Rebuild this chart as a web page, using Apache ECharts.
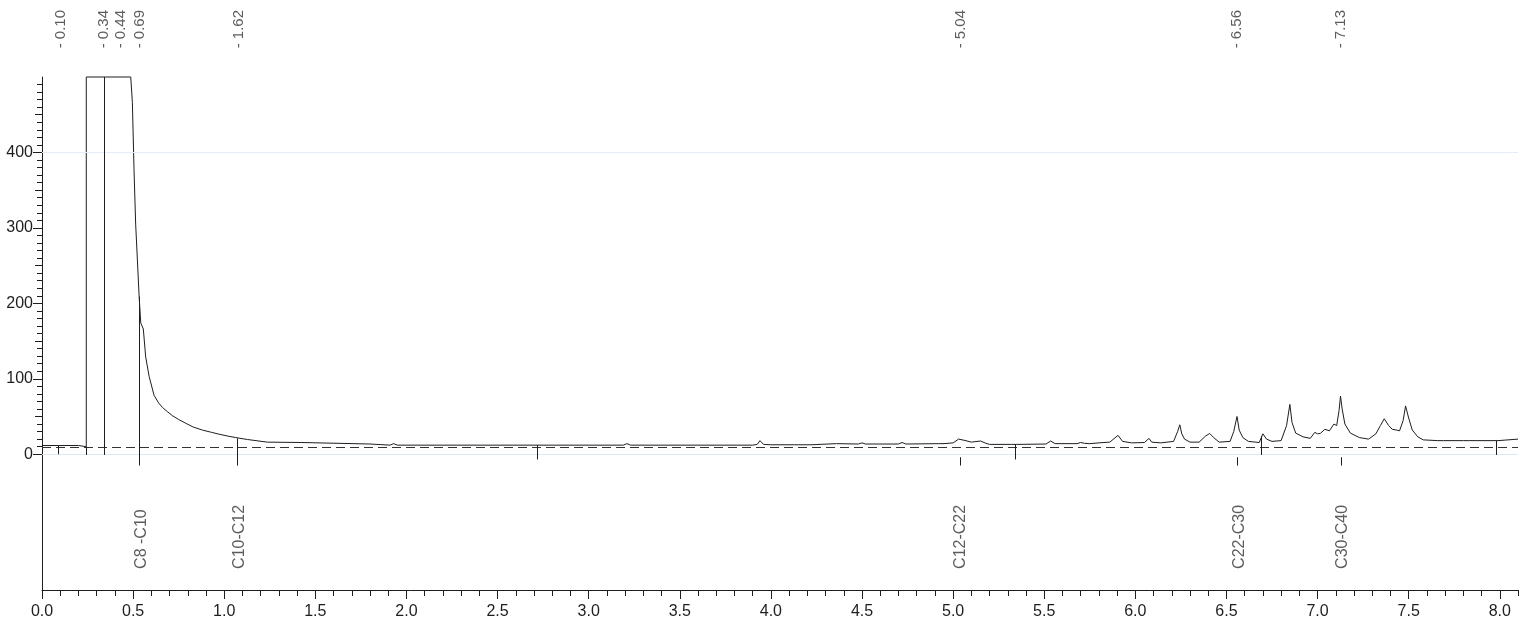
<!DOCTYPE html>
<html>
<head>
<meta charset="utf-8">
<script src="https://cdn.jsdelivr.net/npm/echarts@6/dist/echarts.min.js"></script>
<style>
  html, body { margin: 0; padding: 0; background: #fff; }
  #chart { width: 1519px; height: 621px; }
</style>
</head>
<body>
<div id="chart"></div>
<script>
// retention time (min) and detector signal
const traceTime = [
  0.00, 0.20, 0.205, 0.243, 0.243, 0.487, 0.496, 0.505, 0.514, 0.523, 0.533, 0.542, 0.548, 0.556,
  0.569, 0.588, 0.615, 0.64, 0.661, 0.69, 0.716, 0.75, 0.789, 0.83, 0.88, 0.93, 0.972, 1.02,
  1.064, 1.07, 1.127, 1.13, 1.236, 1.24, 1.426, 1.43, 1.80, 1.805, 1.91, 1.93, 1.95, 3.19,
  3.21, 3.23, 3.90, 3.925, 3.94, 3.96, 4.00, 4.13, 4.14, 4.15, 4.22, 4.23, 4.36, 4.37,
  4.48, 4.50, 4.52, 4.70, 4.72, 4.74, 4.92, 4.93, 4.95, 5.00, 5.03, 5.06, 5.10, 5.15,
  5.18, 5.20, 5.32, 5.33, 5.35, 5.51, 5.535, 5.56, 5.68, 5.70, 5.72, 5.73, 5.75, 5.80,
  5.86, 5.905, 5.93, 5.98, 6.05, 6.075, 6.09, 6.14, 6.21, 6.232, 6.244, 6.255, 6.27, 6.30,
  6.35, 6.385, 6.408, 6.43, 6.46, 6.52, 6.54, 6.558, 6.57, 6.59, 6.62, 6.68, 6.70, 6.72,
  6.75, 6.80, 6.83, 6.848, 6.86, 6.88, 6.92, 6.96, 6.985, 7.00, 7.015, 7.04, 7.065, 7.09,
  7.105, 7.118, 7.126, 7.135, 7.15, 7.18, 7.23, 7.28, 7.32, 7.345, 7.366, 7.39, 7.41, 7.434,
  7.45, 7.47, 7.483, 7.50, 7.52, 7.55, 7.58, 7.66, 7.67, 7.69, 7.80, 7.81, 7.83, 7.99,
  8.00, 8.10
]
const traceSignal = [
  11.5, 11.5, 10, 10, 500, 500, 466, 377, 305, 260, 209, 174, 172, 166,
  129, 103, 78, 68, 62, 56, 51, 46, 41, 36, 32, 29, 26.5, 24,
  22, 20, 19.5, 17, 16, 15.5, 15.5, 13.5, 13.5, 12, 12, 14, 12, 12,
  14, 12, 12, 13, 18, 13, 12.5, 12.5, 15, 12.5, 12.5, 14, 14, 13,
  13.5, 15, 13.5, 13.5, 15.5, 13.5, 14, 15, 14, 15, 20, 18.5, 16, 17.5,
  14.5, 13, 13, 15, 13, 13.5, 17.5, 14, 14, 15.5, 14.5, 16, 14, 15,
  16, 25, 17, 15, 15.5, 21, 16, 15, 17, 30, 39, 27, 20, 16,
  16, 24, 27.5, 22, 16, 17, 30, 50, 32, 22, 17, 15.5, 27, 20,
  17, 18, 38, 66, 42, 28, 23, 21, 29, 27, 27.5, 33, 31, 40,
  38, 58, 77, 60, 40, 28, 22, 20, 27, 38, 47, 38, 33, 32,
  31, 45, 64, 48, 32, 23, 19, 18, 19.5, 18, 18, 16.5, 18, 18,
  20, 20
]

const baselineLevel = 9.5

// integration marks crossing the baseline
const dropTime = [0.088, 0.243, 0.34, 2.72, 5.34, 6.69, 7.98]
const dropTop = [11.5, 10, 500, 12, 13, 24, 18]
const dropBottom = [0, -1, -1, -7, -7, -1, -1]

// carbon range boundaries
const rangeTime = [0.533, 1.07, 5.04, 6.56, 7.13]
const rangeTop = [209, 21, -4, -4, -4]
const rangeBottom = -15
const rangeNames = ['C8 -C10', 'C10-C12', 'C12-C22', 'C22-C30', 'C30-C40']
const rangeLabelTime = [0.549, 1.087, 5.04, 6.573, 7.139]

// peak retention times printed on top
const peakNames = ['- 0.10', '- 0.34', '- 0.44', '- 0.69', '- 1.62', '- 5.04', '- 6.56', '- 7.13']
const peakLabelTime = [0.104, 0.34, 0.434, 0.538, 1.082, 5.041, 6.556, 7.127]

const xLabels = [0, 0.5, 1, 1.5, 2, 2.5, 3, 3.5, 4, 4.5, 5, 5.5, 6, 6.5, 7, 7.5, 8]
const yLabels = [0, 100, 200, 300, 400]
const yMidTicks = [50, 150, 250, 350, 450]
const yMinorTicks = [
  10, 20, 30, 40, 60, 70, 80, 90, 110, 120, 130, 140, 160, 170, 180, 190,
  210, 220, 230, 240, 260, 270, 280, 290, 310, 320, 330, 340, 360, 370, 380, 390,
  410, 420, 430, 440, 460, 470, 480, 490
]

const fontNarrow = '"Liberation Sans Narrow", "Liberation Sans", Arial, sans-serif'
const fontRegular = '"Liberation Sans", Arial, sans-serif'
const ink = '#1e1e1e'

const yMin = -180
const yMax = 500
const xMax = 8.1

const markLines = [
  {
    yAxis: baselineLevel,
    lineStyle: { type: [9, 5], color: '#333', width: 1 }
  },
  { yAxis: 0, lineStyle: { type: 'solid', color: '#dfe7f4', width: 1 } },
  { yAxis: 400, lineStyle: { type: 'solid', color: '#e6ecf6', width: 1 } }
]
dropTime.forEach((t, i) => {
  markLines.push([
    { coord: [t, dropTop[i]], lineStyle: { type: 'solid', color: ink, width: 1 } },
    { coord: [t, dropBottom[i]] }
  ])
})
rangeTime.forEach((t, i) => {
  markLines.push([
    { coord: [t, rangeTop[i]], lineStyle: { type: 'solid', color: ink, width: 1 } },
    { coord: [t, rangeBottom] }
  ])
})

const chart = echarts.init(document.getElementById('chart'))

const option = {
  animation: false,
  backgroundColor: '#fff',
  grid: { left: 42, right: 1, top: 77, bottom: 31, containLabel: false },
  xAxis: [
    {
      type: 'value',
      min: 0,
      max: xMax,
      position: 'bottom',
      axisLine: { show: true, onZero: false, lineStyle: { color: ink, width: 1 } },
      axisTick: { show: true, length: 9, customValues: xLabels, lineStyle: { color: ink } },
      axisLabel: {
        customValues: xLabels,
        formatter: v => v.toFixed(1),
        margin: 14,
        fontSize: 16,
        fontFamily: fontNarrow,
        color: ink
      },
      splitLine: { show: false }
    },
    {
      type: 'value',
      min: 0,
      max: xMax,
      interval: 0.1,
      position: 'bottom',
      axisLine: { show: false, onZero: false },
      axisTick: { show: true, length: 6, lineStyle: { color: ink } },
      axisLabel: { show: false },
      splitLine: { show: false }
    }
  ],
  yAxis: [
    {
      type: 'value',
      min: yMin,
      max: yMax,
      position: 'left',
      axisLine: { show: true, onZero: false, lineStyle: { color: ink, width: 1 } },
      axisTick: { show: true, length: 9, customValues: yLabels, lineStyle: { color: ink } },
      axisLabel: {
        customValues: yLabels,
        margin: 9,
        fontSize: 16,
        fontFamily: fontNarrow,
        color: ink
      },
      splitLine: { show: false }
    },
    {
      type: 'value',
      min: yMin,
      max: yMax,
      position: 'left',
      axisLine: { show: false, onZero: false },
      axisTick: { show: true, length: 7, customValues: yMidTicks, lineStyle: { color: ink } },
      axisLabel: { show: false },
      splitLine: { show: false }
    },
    {
      type: 'value',
      min: yMin,
      max: yMax,
      position: 'left',
      axisLine: { show: false, onZero: false },
      axisTick: { show: true, length: 5, customValues: yMinorTicks, lineStyle: { color: ink } },
      axisLabel: { show: false },
      splitLine: { show: false }
    }
  ],
  series: [
    {
      type: 'line',
      name: 'signal',
      data: traceTime.map((t, i) => [t, traceSignal[i]]),
      showSymbol: false,
      symbol: 'none',
      clip: false,
      lineStyle: { color: ink, width: 1 },
      markLine: {
        silent: true,
        symbol: ['none', 'none'],
        label: { show: false },
        data: markLines
      }
    },
    {
      type: 'scatter',
      name: 'peaks',
      symbolSize: 0,
      clip: false,
      data: peakNames.map((n, i) => ({ name: n, value: [peakLabelTime[i], 538] })),
      label: {
        show: true,
        position: 'inside',
        formatter: '{b}',
        rotate: 90,
        align: 'left',
        verticalAlign: 'middle',
        fontSize: 15,
        fontFamily: fontRegular,
        color: '#333'
      }
    },
    {
      type: 'scatter',
      name: 'ranges',
      symbolSize: 0,
      clip: false,
      data: rangeNames.map((n, i) => ({ name: n, value: [rangeLabelTime[i], -152] })),
      label: {
        show: true,
        position: 'inside',
        formatter: '{b}',
        rotate: 90,
        align: 'left',
        verticalAlign: 'middle',
        fontSize: 16,
        fontFamily: fontRegular,
        color: '#333'
      }
    }
  ]
}

chart.setOption(option)
</script>
</body>
</html>
